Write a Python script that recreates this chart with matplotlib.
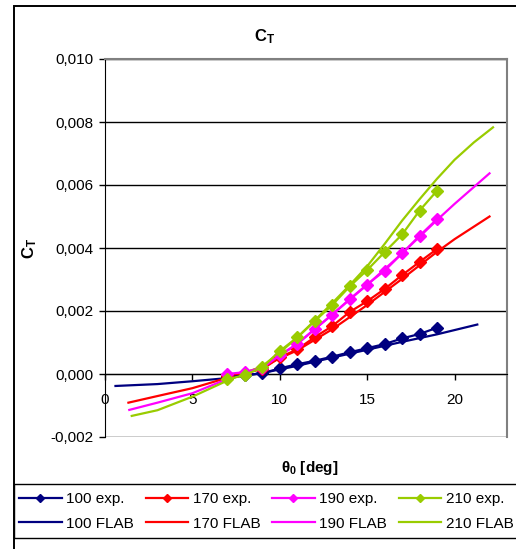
import numpy as np
import matplotlib
matplotlib.use('Agg')
import matplotlib.pyplot as plt
from matplotlib.lines import Line2D
from matplotlib.patches import Rectangle
from matplotlib.ticker import FuncFormatter

plt.rcParams['font.family'] = ['Liberation Sans', 'DejaVu Sans']
plt.rcParams['mathtext.fontset'] = 'custom'
plt.rcParams['mathtext.rm'] = 'Liberation Sans'
plt.rcParams['mathtext.bf'] = 'Liberation Sans:bold'
plt.rcParams['mathtext.it'] = 'Liberation Sans:italic'

# experimental points
theta_exp = [7, 8, 9, 10, 11, 12, 13, 14, 15, 16, 17, 18, 19]
ct_100_exp = [-0.00008, -0.00003, 0.00002, 0.00018, 0.00031, 0.00042, 0.00055,
              0.00069, 0.00082, 0.00095, 0.00113, 0.00127, 0.00147]
ct_170_exp = [-0.00005, 0.00004, 0.00015, 0.00053, 0.00078, 0.00117, 0.00152,
              0.00197, 0.00231, 0.00270, 0.00314, 0.00356, 0.00397]
ct_190_exp = [0.00000, 0.00006, 0.00018, 0.00060, 0.00096, 0.00143, 0.00188,
              0.00238, 0.00284, 0.00328, 0.00383, 0.00439, 0.00492]
ct_210_exp = [-0.00017, -0.00003, 0.00021, 0.00073, 0.00116, 0.00168, 0.00219,
              0.00278, 0.00330, 0.00387, 0.00443, 0.00519, 0.00582]

# FLAB computations
th_100_flab = [0.6, 3, 5, 7, 9, 11, 13, 15, 17, 19, 21.3]
ct_100_flab = [-0.00038, -0.00032, -0.00023, -0.00013, 0.00003, 0.00026, 0.00052,
               0.00077, 0.00102, 0.00126, 0.00157]
th_170_flab = [1.34, 3, 5, 7, 9, 10, 11, 13, 15, 17, 19, 20, 22]
ct_170_flab = [-0.00091, -0.00070, -0.00045, -0.00012, 0.00021, 0.00050, 0.00075,
               0.00142, 0.00219, 0.00302, 0.00388, 0.00428, 0.00500]
th_190_flab = [1.39, 3, 5, 7, 9, 10, 11, 13, 15, 17, 19, 20, 22]
ct_190_flab = [-0.00114, -0.00091, -0.00061, -0.00016, 0.00024, 0.00058, 0.00095,
               0.00189, 0.00283, 0.00383, 0.00489, 0.00540, 0.00637]
th_210_flab = [1.53, 3, 5, 7, 9, 10, 11, 12, 13, 14, 15, 16, 17, 18, 19, 20, 21.1, 22.2]
ct_210_flab = [-0.00133, -0.00115, -0.00072, -0.00021, 0.00025, 0.00068, 0.00116,
               0.00170, 0.00225, 0.00282, 0.00342, 0.00413, 0.00487, 0.00555,
               0.00620, 0.00680, 0.00735, 0.00783]

series = [
    ('100', '#000080', ct_100_exp, th_100_flab, ct_100_flab),
    ('170', '#FF0000', ct_170_exp, th_170_flab, ct_170_flab),
    ('190', '#FF00FF', ct_190_exp, th_190_flab, ct_190_flab),
    ('210', '#99CC00', ct_210_exp, th_210_flab, ct_210_flab),
]

W, H = 516, 549
fig = plt.figure(figsize=(W / 100, H / 100), dpi=100)


def fx(px):
    return px / W


def fy(py):
    return 1 - py / H


ax = fig.add_axes([fx(105), fy(437), fx(507) - fx(105), fy(59) - fy(437)])

for name, col, ce, tf, cf in series:
    ax.plot(tf, cf, color=col, lw=1.6, zorder=3)
    ax.plot(theta_exp, ce, color=col, lw=1.6, marker='D', ms=6, zorder=4)

ax.set_xlim(0, 23)
ax.set_ylim(-0.002, 0.010)
ax.set_xticks([0, 5, 10, 15, 20])
ax.set_yticks(np.arange(-0.002, 0.0101, 0.002))
ax.yaxis.set_major_formatter(FuncFormatter(lambda v, p: f'{v:.3f}'.replace('.', ',')))
ax.yaxis.grid(True, color='black', lw=1)
ax.set_axisbelow(True)

ax.spines['bottom'].set_position(('data', 0))
ax.spines['bottom'].set_color('black')
ax.spines['left'].set_color('black')
ax.spines['top'].set_color('#808080')
ax.spines['right'].set_color('#808080')
ax.spines['top'].set_linewidth(1.5)
ax.spines['right'].set_linewidth(1.5)
ax.tick_params(axis='both', direction='out', length=4, width=1, labelsize=11)
ax.tick_params(axis='x', pad=10)
ax.tick_params(axis='y', pad=4)

fig.text(fx(265), fy(37), r'$\mathbf{C}_\mathbf{T}$', ha='center', va='center', fontsize=12)
fig.text(fx(30), fy(248), r'$\mathbf{C}_\mathbf{T}$', ha='center', va='center', fontsize=12, rotation=90)
fig.text(fx(310), fy(468), r'$\mathbf{\theta_0}$ [deg]', ha='center', va='center', fontsize=11, fontweight='bold')

# borders: chart area and legend box
fig.patches.append(Rectangle((fx(14), fy(560)), fx(530) - fx(14), fy(6) - fy(560),
                             transform=fig.transFigure, fill=False, ec='black', lw=1.4))
fig.patches.append(Rectangle((fx(14), fy(538)), fx(530) - fx(14), fy(484) - fy(538),
                             transform=fig.transFigure, fill=False, ec='black', lw=1.0))

handles, labels = [], []
for name, col, ce, tf, cf in series:
    handles.append(Line2D([], [], color=col, lw=1.6, marker='D', ms=4.5))
    labels.append(name + ' exp.')
    handles.append(Line2D([], [], color=col, lw=1.6))
    labels.append(name + ' FLAB')

fig.legend(handles, labels, ncol=4, loc='upper left', bbox_to_anchor=(fx(19), fy(492)),
           frameon=False, fontsize=11, handlelength=2.8, handletextpad=0.3,
           columnspacing=0.75, labelspacing=0.7, borderpad=0, borderaxespad=0)

fig.savefig('out.png', dpi=100)
